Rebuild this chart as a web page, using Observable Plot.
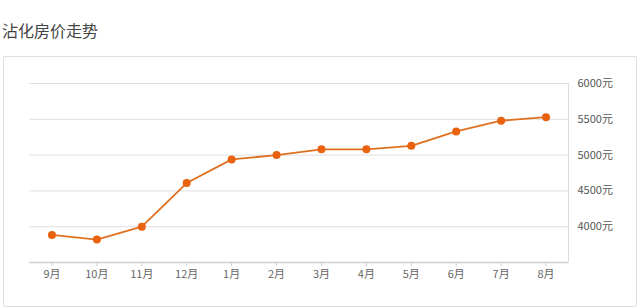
<!DOCTYPE html>
<html>
<head>
<meta charset="utf-8">
<script src="https://cdn.jsdelivr.net/npm/d3@7"></script>
<script src="https://cdn.jsdelivr.net/npm/@observablehq/plot@0.6"></script>
<style>
  html, body { margin: 0; padding: 0; background: #fff; }
  body { width: 640px; height: 308px; position: relative; overflow: hidden; font-family: "Noto Sans CJK SC", "Noto Sans", sans-serif; }
  #title { position: absolute; left: 2px; top: 19px; font-size: 16px; color: #444; line-height: 22px; }
  #card { position: absolute; left: 3px; top: 56px; width: 632px; height: 249px; border: 1px solid #dedede; border-radius: 2px; }
  #chart { position: absolute; left: 0; top: 56px; }
</style>
</head>
<body>
<div id="title">沾化房价走势</div>
<div id="card"></div>
<div id="chart"></div>
<script>
const months = ["9月","10月","11月","12月","1月","2月","3月","4月","5月","6月","7月","8月"];
const prices = [3885, 3820, 4000, 4610, 4940, 5000, 5080, 5080, 5130, 5330, 5480, 5530];
const yTicks = [4000, 4500, 5000, 5500, 6000];
const yBase = 3500;

const data = months.map((m, i) => ({month: m, price: prices[i]}));

const chart = Plot.plot({
  width: 640,
  height: 251,
  marginLeft: 29,
  marginRight: 72,
  marginTop: 27,
  marginBottom: 45,
  style: {fontFamily: '"Noto Sans CJK SC", "Noto Sans", sans-serif', fontSize: "11px", background: "transparent"},
  x: {type: "point", domain: months, padding: 0.5, round: false, label: null},
  y: {domain: [yBase, 6000], label: null},
  marks: [
    Plot.gridY(yTicks, {stroke: "#e0e0e0", strokeOpacity: 1, strokeWidth: 1}),
    Plot.ruleY([yBase], {stroke: "#cfcfcf", strokeWidth: 1.5}),
    Plot.frame({anchor: "right", stroke: "#dddddd"}),
    Plot.axisX({tickSize: 4, tickPadding: 4, stroke: "#cfcfcf", color: "#666", fontSize: 11}),
    Plot.axisY(yTicks, {anchor: "right", tickSize: 0, tickPadding: 9, tickFormat: d => d + "元", color: "#555", fontSize: 11, textAnchor: "start"}),
    Plot.line(data, {x: "month", y: "price", stroke: "#e0701f", strokeWidth: 1.8}),
    Plot.dot(data, {x: "month", y: "price", r: 4, fill: "#e8620f", stroke: "none"})
  ]
});
document.getElementById("chart").appendChild(chart);
</script>
</body>
</html>
